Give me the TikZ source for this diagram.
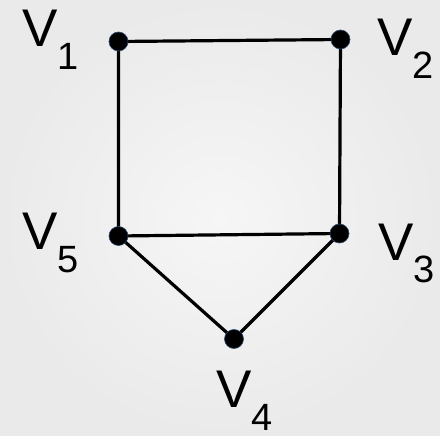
\documentclass[tikz,border=0pt]{standalone}
\usepackage{fontspec}
\setmainfont{Liberation Sans}
\definecolor{dotedge}{RGB}{40,70,110}
\definecolor{bgin}{RGB}{246,246,246}
\definecolor{bgout}{RGB}{234,234,234}
\newcommand{\vlab}[1]{\fontsize{53}{53}\selectfont V\raisebox{-23pt}{\fontsize{38}{38}\selectfont #1}}
\begin{document}
\begin{tikzpicture}[x=1pt,y=-1pt,
  vdot/.style={circle,fill=black,draw=dotedge,line width=0.6pt,minimum size=19pt,inner sep=0pt},
  vlbl/.style={inner sep=0pt,anchor=base west},
  edge/.style={line width=3.2pt,black}]
\useasboundingbox (0,0) rectangle (440,436);
\shade[inner color=bgin,outer color=bgout] (0,0) rectangle (440,436);
\coordinate (c1) at (118.5,41.5);
\coordinate (c2) at (340.5,39.5);
\coordinate (c3) at (339.5,233.5);
\coordinate (c4) at (234,339);
\coordinate (c5) at (118.5,236);
\draw[edge] (c1) -- (c2) -- (c3) -- (c4) -- (c5) -- (c1);
\draw[edge] (c5) -- (c3);
\node[vdot] (v1) at (c1) {};
\node[vdot] (v2) at (c2) {};
\node[vdot] (v3) at (c3) {};
\node[vdot] (v4) at (c4) {};
\node[vdot] (v5) at (c5) {};
\node[vlbl] (l1) at (22,47) {\vlab{1}};
\node[vlbl] (l2) at (377,56) {\vlab{2}};
\node[vlbl] (l3) at (378,260) {\vlab{3}};
\node[vlbl] (l4) at (216,407) {\vlab{4}};
\node[vlbl] (l5) at (22,250) {\vlab{5}};
\end{tikzpicture}
\end{document}
